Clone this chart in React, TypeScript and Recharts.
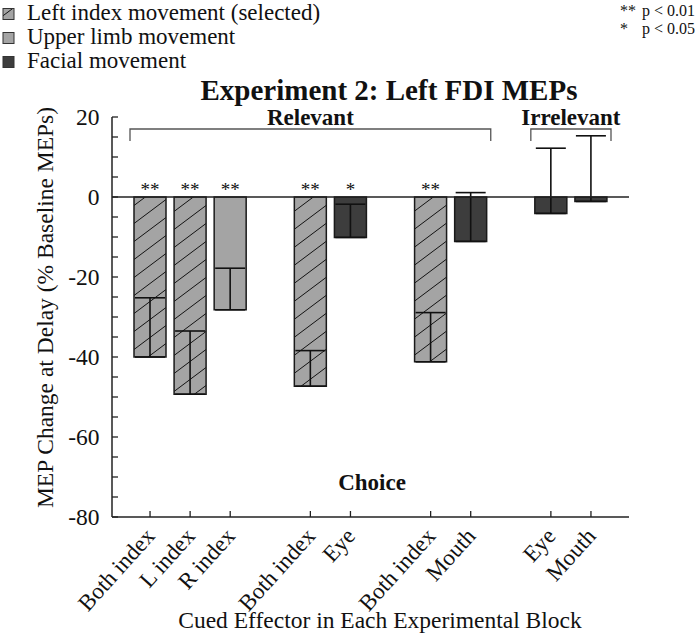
import React from 'react';
import {
  BarChart,
  Bar,
  XAxis,
  YAxis,
  ErrorBar,
  Cell,
  ReferenceLine,
  ReferenceArea,
  LabelList,
} from 'recharts';

// ---------- data ----------
const categoryKeys = ['c1', 'c2', 'c3', 'c4', 'c5', 'c6', 'c7', 'c8', 'c9', 'c10', 'c11', 'c12'];
const categoryLabels = ['Both index', 'L index', 'R index', '', 'Both index', 'Eye', '', 'Both index', 'Mouth', '', 'Eye', 'Mouth'];
const meanChange: (number | null)[] = [-40, -49.3, -28.2, null, -47.3, -10.1, null, -41.2, -11.1, null, -4.1, -1.1];
const errorUpper: (number | null)[] = [14.8, 15.8, 10.4, null, 8.9, 8.3, null, 12.3, 12.2, null, 16.3, 16.4];
const effectorType: (string | null)[] = ['selected', 'selected', 'limb', null, 'selected', 'facial', null, 'selected', 'facial', null, 'facial', 'facial'];
const significance = ['**', '**', '**', '', '**', '*', '', '**', '', '', '', ''];
const yTicks = [-80, -75, -70, -65, -60, -55, -50, -45, -40, -35, -30, -25, -20, -15, -10, -5, 0, 5, 10, 15, 20];
const yTickLabels = [-80, -60, -40, -20, 0, 20];
const groupNames = ['Relevant', 'Irrelevant'];
const groupFirst = ['c1', 'c11'];
const groupLast = ['c9', 'c12'];
const legendLabels = ['Left index movement (selected)', 'Upper limb movement', 'Facial movement'];
const legendTypes = ['selected', 'limb', 'facial'];
const sigLegendMarks = ['**', '*'];
const sigLegendTexts = ['p < 0.01', 'p < 0.05'];

const SERIF = "'Liberation Serif','Times New Roman',Times,serif";
const INK = '#111';

const fillOf = (t: string | null) =>
  t === 'selected' ? 'url(#lhatch)' : t === 'limb' ? '#a4a4a4' : '#3d3d3d';

const data = categoryKeys.map((key, i) => ({
  key,
  label: categoryLabels[i],
  value: meanChange[i],
  err: errorUpper[i] == null ? null : [0, errorUpper[i] as number],
  type: effectorType[i],
  sig: significance[i],
}));
const tickKeys = data.filter((d) => d.label !== '').map((d) => d.key);

function XTick(props: any) {
  const { x, y, payload } = props;
  const d = data.find((e) => e.key === payload.value);
  const ax = Number(x) + 6;
  const ay = Number(y) + 10;
  return (
    <text
      x={ax}
      y={ay}
      textAnchor="end"
      transform={`rotate(-48 ${ax} ${ay})`}
      fontSize={23}
      fontFamily={SERIF}
      fill={INK}
    >
      {d ? d.label : ''}
    </text>
  );
}

function StarLabel(props: any) {
  const { x, y, width, height, value } = props;
  if (!value) return null;
  const top = Math.min(Number(y), Number(y) + Number(height));
  return (
    <text
      x={Number(x) + Number(width) / 2}
      y={top - 1}
      textAnchor="middle"
      fontSize={19}
      fontFamily={SERIF}
      fill={INK}
    >
      {value}
    </text>
  );
}

function Bracket(props: any) {
  const x = Number(props.x);
  const y = Number(props.y);
  const w = Number(props.width);
  const h = Number(props.height);
  return (
    <path
      d={`M${x},${y + h} L${x},${y} L${x + w},${y} L${x + w},${y + h}`}
      fill="none"
      stroke="#555"
      strokeWidth={1.3}
    />
  );
}

export default function App() {
  return (
    <div style={{ position: 'absolute', left: 0, top: 0, width: 700, height: 635, background: '#fff' }}>
      <svg width={0} height={0} style={{ position: 'absolute' }}>
        <defs>
          <pattern id="lhatch" patternUnits="userSpaceOnUse" width={24} height={18}>
            <rect width={24} height={18} fill="#a4a4a4" />
            <path
              d="M0,18 L24,0 M-6,4.5 L6,-4.5 M18,22.5 L30,13.5"
              stroke="#111"
              strokeWidth={1}
            />
          </pattern>
        </defs>
      </svg>
      <BarChart
        width={700}
        height={635}
        data={data}
        margin={{ top: 117, right: 71, left: 0, bottom: 0 }}
        barSize={32}
      >
        <XAxis
          dataKey="key"
          type="category"
          ticks={tickKeys}
          interval={0}
          height={118}
          padding={{ left: 18, right: 18 }}
          tickSize={-6}
          tickMargin={16}
          axisLine={{ stroke: '#222', strokeWidth: 1.5 }}
          tickLine={{ stroke: '#222', strokeWidth: 1.3 }}
          tick={<XTick />}
        />
        <YAxis
          type="number"
          domain={[-80, 20]}
          ticks={yTicks}
          interval={0}
          width={112}
          tickSize={-6}
          tickMargin={18.5}
          axisLine={{ stroke: '#222', strokeWidth: 1.5 }}
          tickLine={{ stroke: '#222', strokeWidth: 1.3 }}
          tick={{ fontSize: 23.5, fill: INK, fontFamily: SERIF }}
          tickFormatter={(v: number) => (yTickLabels.includes(v) ? String(v) : '')}
        />
        {groupNames.map((name, i) => (
          <ReferenceArea
            key={name}
            x1={groupFirst[i]}
            x2={groupLast[i]}
            y1={14}
            y2={17}
            ifOverflow="visible"
            shape={<Bracket />}
            label={{
              value: name,
              position: 'top',
              offset: 4,
              fontSize: 23,
              fontWeight: 'bold',
              fontFamily: SERIF,
              fill: INK,
            }}
          />
        ))}
        <Bar dataKey="value" isAnimationActive={false} stroke="#1a1a1a" strokeWidth={1.5}>
          {data.map((d, i) => (
            <Cell key={i} fill={fillOf(d.type)} />
          ))}
          <ErrorBar dataKey="err" width={15} stroke="#111" strokeWidth={1.6} direction="y" />
          <LabelList dataKey="sig" content={<StarLabel />} />
        </Bar>
        <ReferenceLine y={0} stroke="#222" strokeWidth={1.5} />
      </BarChart>
      <svg
        width={700}
        height={635}
        style={{ position: 'absolute', left: 0, top: 0, pointerEvents: 'none' }}
        fontFamily={SERIF}
      >
        <text x={389} y={100} textAnchor="middle" fontSize={29} fontWeight="bold" fill={INK}>
          Experiment 2: Left FDI MEPs
        </text>
        {legendLabels.map((lab, i) => {
          const base = [20, 44, 68][i];
          return (
            <g key={lab}>
              <rect x={3} y={base - 11.5} width={11} height={11} fill={fillOf(legendTypes[i])} stroke="#333" strokeWidth={1} />
              <text x={27} y={base} fontSize={23} fill={INK}>
                {lab}
              </text>
            </g>
          );
        })}
        {sigLegendMarks.map((m, i) => (
          <g key={m}>
            <text x={620} y={[16, 34][i]} fontSize={16} fill={INK}>
              {m}
            </text>
            <text x={642} y={[16, 34][i]} fontSize={16} fill={INK}>
              {sigLegendTexts[i]}
            </text>
          </g>
        ))}
        <text x={372} y={490} textAnchor="middle" fontSize={23} fontWeight="bold" fill={INK}>
          Choice
        </text>
        <text
          x={52.5}
          y={307.5}
          textAnchor="middle"
          transform="rotate(-90 52.5 307.5)"
          fontSize={23.5}
          fill={INK}
        >
          MEP Change at Delay (% Baseline MEPs)
        </text>
        <text x={380} y={628} textAnchor="middle" fontSize={23.5} fill={INK}>
          Cued Effector in Each Experimental Block
        </text>
      </svg>
    </div>
  );
}
